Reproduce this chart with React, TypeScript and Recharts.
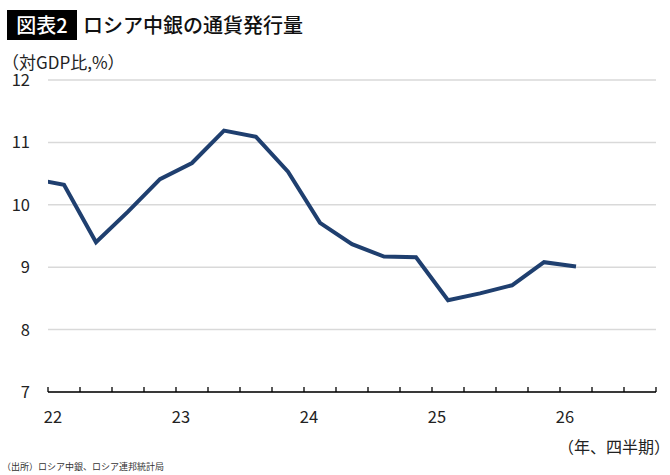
import React from "react";
import { LineChart, Line, XAxis, YAxis, CartesianGrid } from "recharts";

// quarter positions: 21Q4 sits half a category left of the axis start (clipped)
const quarters = [
  "21Q4", "22Q1", "22Q2", "22Q3", "22Q4",
  "23Q1", "23Q2", "23Q3", "23Q4",
  "24Q1", "24Q2", "24Q3", "24Q4",
  "25Q1", "25Q2", "25Q3", "25Q4",
  "26Q1",
];
const values = [
  10.42, 10.32, 9.4, 9.89, 10.41,
  10.67, 11.19, 11.09, 10.53,
  9.71, 9.37, 9.17, 9.16,
  8.47, 8.58, 8.71, 9.08,
  9.01,
];
const yTicks = [7, 8, 9, 10, 11, 12];
const xTickIdx = Array.from({ length: 20 }, (_, i) => i);
const yearLabels = ["22", "23", "24", "25", "26"];

const data = quarters.map((q, i) => ({ q, pos: i - 0.5, v: values[i] }));

const FONT = "'Noto Sans CJK JP', 'Noto Sans', sans-serif";

const XTick = (props: any) => {
  const { x, y, payload } = props;
  const idx = payload.value as number;
  const label = idx % 4 === 0 ? yearLabels[idx / 4] : null;
  return (
    <g>
      <line x1={x} y1={y} x2={x} y2={y - 5} stroke="#000" strokeWidth={1.3} />
      {label && (
        <text
          x={x + 5}
          y={y + 31}
          textAnchor="middle"
          fontSize={16.5}
          fill="#222"
          fontFamily={FONT}
        >
          {label}
        </text>
      )}
    </g>
  );
};

const YTick = (props: any) => {
  const { y, payload } = props;
  return (
    <text
      x={30}
      y={y + 6}
      textAnchor="end"
      fontSize={16.5}
      fill="#222"
      fontFamily={FONT}
    >
      {payload.value}
    </text>
  );
};

export default function App() {
  return (
    <div
      style={{
        position: "absolute",
        left: 0,
        top: 0,
        width: 670,
        height: 475,
        background: "#fff",
        fontFamily: FONT,
        overflow: "hidden",
      }}
    >
      <div
        style={{
          position: "absolute",
          left: 7,
          top: 10,
          width: 70,
          height: 30,
          background: "#000",
          color: "#fff",
          fontSize: 20,
          fontWeight: 500,
          lineHeight: "30px",
          textAlign: "center",
        }}
      >
        図表2
      </div>
      <div
        style={{
          position: "absolute",
          left: 83,
          top: 10,
          height: 30,
          fontSize: 20,
          fontWeight: 500,
          lineHeight: "30px",
          color: "#111",
          whiteSpace: "nowrap",
        }}
      >
        ロシア中銀の通貨発行量
      </div>
      <div
        style={{
          position: "absolute",
          left: 2,
          top: 53,
          fontSize: 17,
          lineHeight: "17px",
          color: "#222",
          whiteSpace: "nowrap",
        }}
      >
        （対GDP比,%）
      </div>
      <div
        style={{
          position: "absolute",
          left: 558,
          top: 435,
          fontSize: 16,
          lineHeight: "22px",
          color: "#222",
          whiteSpace: "nowrap",
        }}
      >
        （年、四半期）
      </div>
      <div
        style={{
          position: "absolute",
          left: 2,
          top: 460,
          fontSize: 9,
          lineHeight: "13px",
          color: "#333",
          whiteSpace: "nowrap",
        }}
      >
        （出所）ロシア中銀、ロシア連邦統計局
      </div>
      <div style={{ position: "absolute", left: 0, top: 0 }}>
        <LineChart
          width={670}
          height={475}
          data={data}
          margin={{ top: 80, right: 14, bottom: 0, left: 0 }}
        >
          <CartesianGrid
            vertical={false}
            stroke="#d9d9d9"
            strokeWidth={1.5}
          />
          <XAxis
            dataKey="pos"
            type="number"
            domain={[0, 19]}
            ticks={xTickIdx}
            interval={0}
            allowDataOverflow
            height={83}
            tickLine={false}
            tickSize={0}
            tickMargin={0}
            axisLine={{ stroke: "#000", strokeWidth: 1.5 }}
            tick={<XTick />}
          />
          <YAxis
            type="number"
            domain={[7, 12]}
            ticks={yTicks}
            interval={0}
            width={48}
            axisLine={false}
            tickLine={false}
            tick={<YTick />}
          />
          <Line
            type="linear"
            dataKey="v"
            stroke="#1f3f6f"
            strokeWidth={4}
            dot={false}
            activeDot={false}
            isAnimationActive={false}
          />
        </LineChart>
      </div>
    </div>
  );
}
